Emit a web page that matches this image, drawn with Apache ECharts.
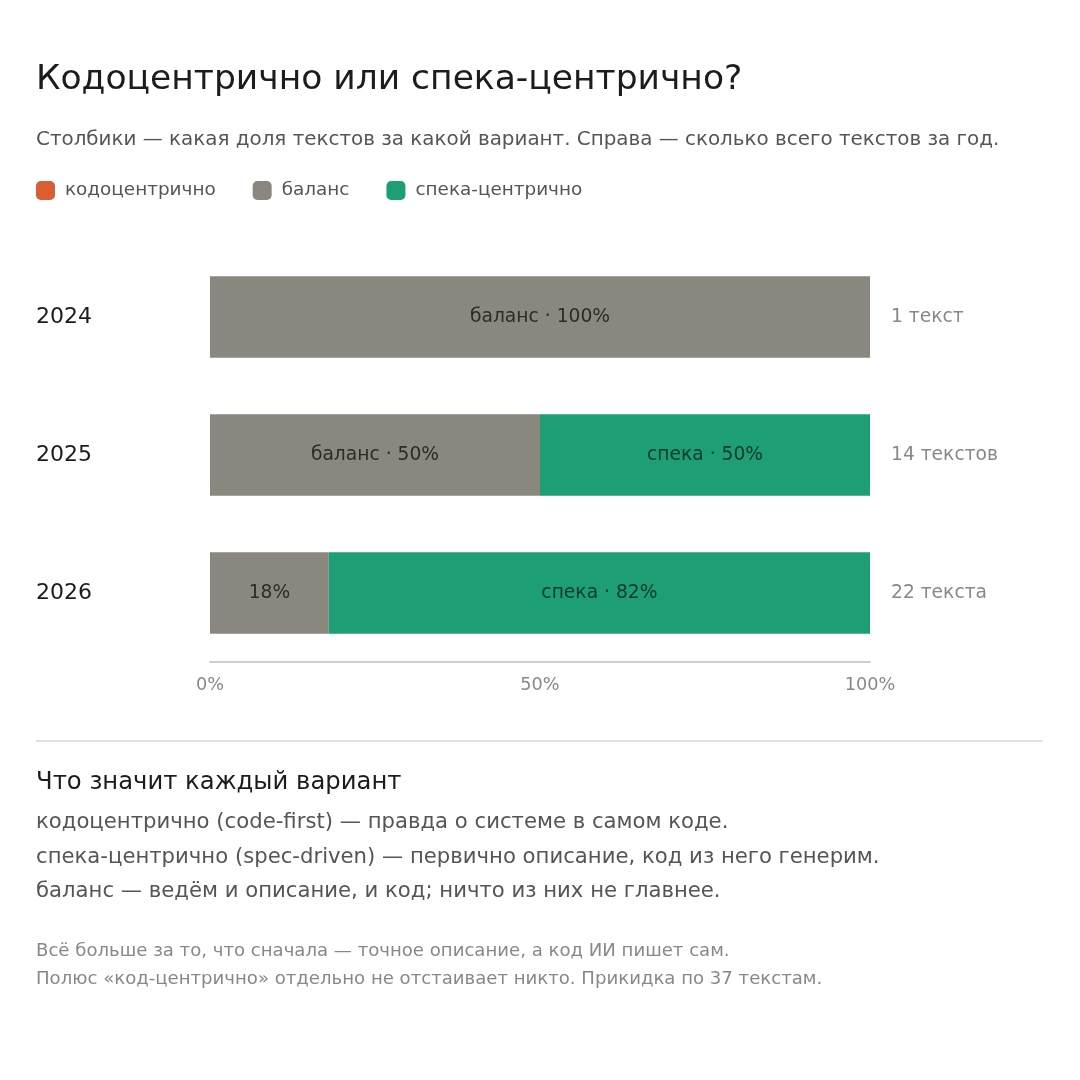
<!DOCTYPE html>
<html>
<head>
<meta charset="utf-8">
<script src="https://cdn.jsdelivr.net/npm/echarts@6/dist/echarts.min.js"></script>
<style>
  html, body { margin: 0; padding: 0; background: #fff; }
  #chart { width: 1080px; height: 1080px; }
</style>
</head>
<body>
<div id="chart"></div>
<script>
var years = ['2024', '2025', '2026'];
var seriesNames = ['кодоцентрично', 'баланс', 'спека-центрично'];
var shortNames = ['код', 'баланс', 'спека'];
var codeFirst = [0, 0, 0];
var balance = [100, 50, 18];
var specDriven = [0, 50, 82];
var textCounts = ['1 текст', '14 текстов', '22 текста'];
var xTicks = [0, 50, 100];

var font = 'DejaVu Sans';
var colors = ['#d95f32', '#8a887e', '#1e9e74'];
var labelColors = ['#3a1a0c', '#2b2b28', '#0c3a2b'];

function makeSeries(idx, data) {
	return {
		name: seriesNames[idx],
		type: 'bar',
		stack: 'total',
		barWidth: '59%',
		data: data,
		itemStyle: { color: colors[idx] },
		label: {
			show: true,
			position: 'inside',
			fontFamily: font,
			fontSize: 18.7,
			color: labelColors[idx],
			formatter: function(p) {
				if (!p.value) return '';
				if (p.value < 30) return p.value + '%';
				return shortNames[idx] + ' · ' + p.value + '%';
			}
		}
	};
}

var option = {
	animation: false,
	backgroundColor: '#fff',
	textStyle: { fontFamily: font },
	title: {
		text: 'Кодоцентрично или спека-центрично?',
		left: 31,
		top: 58,
		textStyle: { fontFamily: font, fontSize: 34.5, fontWeight: 'normal', color: '#1c1c1c' }
	},
	legend: {
		left: 36,
		top: 181,
		padding: 0,
		itemWidth: 19,
		itemHeight: 19,
		itemGap: 37,
		icon: 'roundRect',
		data: seriesNames,
		textStyle: { fontFamily: font, fontSize: 18.4, color: '#555', padding: [0, 0, 0, 5] }
	},
	grid: {
		left: 210,
		right: 210,
		top: 248,
		height: 414
	},
	xAxis: {
		type: 'value',
		min: 0,
		max: 100,
		interval: 50,
		splitLine: { show: false },
		axisTick: { show: false },
		axisLine: { show: true, lineStyle: { color: '#cfcfca', width: 2 } },
		axisLabel: {
			margin: 14,
			fontFamily: font,
			fontSize: 17.7,
			color: '#888',
			formatter: function(v) { return xTicks.indexOf(v) >= 0 ? v + '%' : ''; }
		}
	},
	yAxis: [{
		type: 'category',
		data: years,
		inverse: true,
		axisLine: { show: false },
		axisTick: { show: false },
		axisLabel: { margin: 174, align: 'left', fontFamily: font, fontSize: 22, color: '#1c1c1c' }
	}, {
		type: 'category',
		data: textCounts,
		inverse: true,
		position: 'right',
		axisLine: { show: false },
		axisTick: { show: false },
		axisLabel: { margin: 21, fontFamily: font, fontSize: 18.7, color: '#888' }
	}],
	series: [
		makeSeries(0, codeFirst),
		makeSeries(1, balance),
		makeSeries(2, specDriven)
	],
	graphic: [
		{ type: 'text', left: 36, top: 130, style: { text: 'Столбики — какая доля текстов за какой вариант. Справа — сколько всего текстов за год.', font: '19.9px "DejaVu Sans"', fill: '#555' } },
		{ type: 'line', shape: { x1: 36, y1: 741, x2: 1043, y2: 741 }, style: { stroke: '#e2e2df', lineWidth: 2 } },
		{ type: 'text', left: 36, top: 771, style: { text: 'Что значит каждый вариант', font: '24.3px "DejaVu Sans"', fill: '#1c1c1c' } },
		{ type: 'text', left: 36, top: 812, style: { text: 'кодоцентрично (code-first) — правда о системе в самом коде.', font: '21.2px "DejaVu Sans"', fill: '#555' } },
		{ type: 'text', left: 36, top: 847, style: { text: 'спека-центрично (spec-driven) — первично описание, код из него генерим.', font: '21.2px "DejaVu Sans"', fill: '#555' } },
		{ type: 'text', left: 36, top: 881, style: { text: 'баланс — ведём и описание, и код; ничто из них не главнее.', font: '21.2px "DejaVu Sans"', fill: '#555' } },
		{ type: 'text', left: 36, top: 942, style: { text: 'Всё больше за то, что сначала — точное описание, а код ИИ пишет сам.', font: '18.1px "DejaVu Sans"', fill: '#888' } },
		{ type: 'text', left: 36, top: 970, style: { text: 'Полюс «код-центрично» отдельно не отстаивает никто. Прикидка по 37 текстам.', font: '18.1px "DejaVu Sans"', fill: '#888' } }
	]
};

var chart = echarts.init(document.getElementById('chart'));
chart.setOption(option);
</script>
</body>
</html>
